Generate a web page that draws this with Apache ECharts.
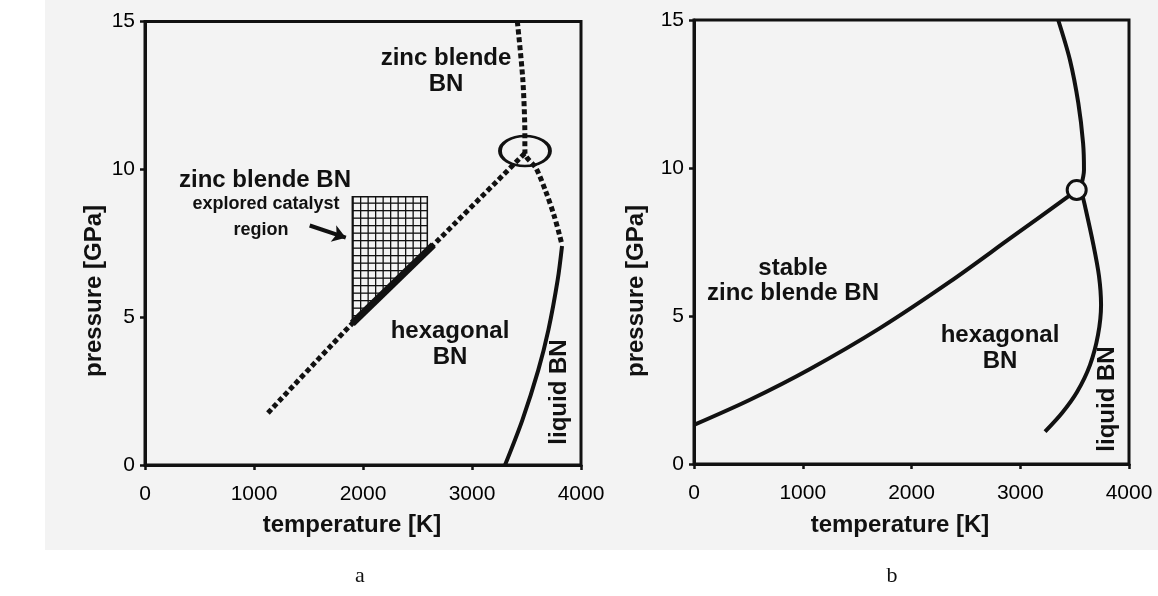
<!DOCTYPE html>
<html><head><meta charset="utf-8">
<script src="https://cdn.jsdelivr.net/npm/echarts@6/dist/echarts.min.js"></script>
<style>html,body{margin:0;padding:0;background:#fff}#c{width:1158px;height:596px}</style>
</head><body><div id="c"></div>
<script>
// ---------- data (temperature K, pressure GPa) ----------
const tempRange = [0, 4000];
const presRange = [0, 15];
const tempTickStep = 1000;
const presTickStep = 5;
const panelNames = ['a', 'b'];

// Panel a
const aZbBoundary = [[1128, 1.76], [1902, 4.79], [2645, 7.44], [3486, 10.55]];
const aExploredSegment = [[1902, 4.79], [2645, 7.44]];
const aCatalystRegion = [[1902, 9.07], [2590, 9.07], [2590, 7.24], [1902, 4.79]];
const aMeltDotted = [[3416, 15], [3465, 13.1], [3484, 11.5], [3486, 10.55], [3587, 10.04], [3679, 9.23], [3752, 8.45], [3803, 7.78], [3826, 7.44]];
const aMeltSolid = [[3826, 7.41], [3786, 6.26], [3701, 4.57], [3608, 3.21], [3462, 1.52], [3303, 0]];
const aTriplePoint = [[3486, 10.62]];
const aArrow = [[1511, 8.1], [1842, 7.69]];

// Panel b
const bZbBoundary = [[0, 1.32], [515, 2.17], [1067, 3.21], [1710, 4.59], [2354, 6.16], [2906, 7.62], [3439, 9.03], [3519, 9.26]];
const bMeltUpper = [[3349, 15], [3457, 13.65], [3534, 12.19], [3578, 10.83], [3586, 9.93], [3560, 9.4]];
const bMeltLower = [[3570, 9.1], [3595, 8.72], [3669, 7.47], [3724, 6.35], [3743, 5.37], [3715, 4.36], [3641, 3.34], [3522, 2.43], [3384, 1.72], [3228, 1.09]];
const bTriplePoint = [[3519, 9.26]];

// ---------- chart ----------
const INK = '#111';
const BG = '#f3f3f3';
const SANS = "'Liberation Sans', Arial, sans-serif";

const tile = document.createElement('canvas');
tile.width = 15; tile.height = 15;
(function () {
  const g = tile.getContext('2d');
  g.fillStyle = INK;
  g.fillRect(0, 0, 15, 1.3);
  g.fillRect(0, 7.5, 15, 1.3);
  g.fillRect(0, 0, 1.3, 15);
  g.fillRect(7.5, 0, 1.3, 15);
})();

function xAx(i) {
  return {
    gridIndex: i, type: 'value', min: tempRange[0], max: tempRange[1], interval: tempTickStep,
    axisLine: { show: true, onZero: false, lineStyle: { color: INK, width: 3 } },
    axisTick: { show: true, inside: false, length: 5, lineStyle: { color: INK, width: 2.5 } },
    axisLabel: { show: true, fontSize: 21, color: '#000', margin: 19, fontFamily: SANS, showMinLabel: true, showMaxLabel: true,
      formatter: function (v) { return String(v); } },
    splitLine: { show: false }
  };
}
function yAx(i) {
  return {
    gridIndex: i, type: 'value', min: presRange[0], max: presRange[1], interval: presTickStep,
    axisLine: { show: true, onZero: false, lineStyle: { color: INK, width: 3 } },
    axisTick: { show: true, inside: false, length: 5, lineStyle: { color: INK, width: 2.5 } },
    axisLabel: { show: true, fontSize: 21, color: '#000', margin: 10, fontFamily: SANS, showMinLabel: true, showMaxLabel: true,
      formatter: function (v) { return String(v); } },
    splitLine: { show: false }
  };
}
function line(data, gi, width, dotted, smooth, z) {
  return {
    type: 'line', xAxisIndex: gi, yAxisIndex: gi, data: data, symbol: 'none', showSymbol: false,
    smooth: smooth, silent: true, z: z || 3, clip: false,
    lineStyle: { color: INK, width: width, type: dotted ? [5, 3] : 'solid', cap: 'butt' }
  };
}
function txt(x, y, s, opt) {
  opt = opt || {};
  return {
    type: 'text', x: x, y: y, rotation: opt.rot || 0, z: 50, silent: true,
    style: {
      text: s, fill: INK, align: 'center', verticalAlign: 'middle',
      font: (opt.weight || 'bold') + ' ' + (opt.size || 24) + 'px ' + (opt.family || SANS),
      lineHeight: opt.lh || 26
    }
  };
}

const chart = echarts.init(document.getElementById('c'), null, { renderer: 'canvas' });
chart.setOption({
  animation: false,
  backgroundColor: '#fff',
  grid: [
    { left: 145, right: 1158 - 581, top: 21.5, bottom: 596 - 465, show: true, borderColor: INK, borderWidth: 3, backgroundColor: 'transparent' },
    { left: 694, right: 1158 - 1129, top: 20, bottom: 596 - 464, show: true, borderColor: INK, borderWidth: 3, backgroundColor: 'transparent' }
  ],
  xAxis: [xAx(0), xAx(1)],
  yAxis: [yAx(0), yAx(1)],
  graphic: [
    { type: 'rect', shape: { x: 45, y: 0, width: 1113, height: 550 }, style: { fill: BG }, z: -10, silent: true },
    // panel a texts
    txt(446, 71.5, 'zinc blende\nBN'),
    txt(265, 180, 'zinc blende BN'),
    txt(266, 204, 'explored catalyst', { size: 18 }),
    txt(261, 230, 'region', { size: 18 }),
    txt(450, 344, 'hexagonal\nBN'),
    txt(559, 392, 'liquid BN', { rot: Math.PI / 2 }),
    txt(94, 291, 'pressure [GPa]', { rot: Math.PI / 2 }),
    txt(352, 525, 'temperature [K]'),
    txt(360, 576, panelNames[0], { weight: 'normal', size: 22, family: "'Liberation Serif', 'Times New Roman', serif" }),
    // panel b texts
    txt(793, 281, 'stable\nzinc blende BN', { lh: 25 }),
    txt(1000, 348, 'hexagonal\nBN'),
    txt(1107, 399, 'liquid BN', { rot: Math.PI / 2 }),
    txt(636, 291, 'pressure [GPa]', { rot: Math.PI / 2 }),
    txt(900, 525, 'temperature [K]'),
    txt(892, 576, panelNames[1], { weight: 'normal', size: 22, family: "'Liberation Serif', 'Times New Roman', serif" })
  ],
  series: [
    // ---- panel a ----
    {
      type: 'custom', coordinateSystem: 'cartesian2d', xAxisIndex: 0, yAxisIndex: 0, silent: true, z: 2,
      data: [aCatalystRegion[0]],
      renderItem: function (params, api) {
        return {
          type: 'polygon',
          shape: { points: aCatalystRegion.map(function (p) { return api.coord(p); }) },
          style: { fill: { image: tile, repeat: 'repeat' }, stroke: INK, lineWidth: 1.5 }
        };
      }
    },
    line(aZbBoundary, 0, 5, true, 0.15),
    line(aExploredSegment, 0, 7, false, false, 4),
    line(aMeltDotted, 0, 5, true, 0.3),
    line(aMeltSolid, 0, 4, false, 0.3),
    {
      type: 'scatter', xAxisIndex: 0, yAxisIndex: 0, data: aTriplePoint, symbol: 'circle', symbolSize: [50, 30], silent: true, z: 5,
      itemStyle: { color: 'rgba(0,0,0,0)', borderColor: INK, borderWidth: 3, opacity: 1 }
    },
    {
      type: 'lines', coordinateSystem: 'cartesian2d', xAxisIndex: 0, yAxisIndex: 0, silent: true, z: 5,
      symbol: ['none', 'arrow'], symbolSize: 13,
      lineStyle: { color: INK, width: 4, opacity: 1, curveness: 0 },
      data: [{ coords: aArrow }]
    },
    // ---- panel b ----
    line(bZbBoundary, 1, 4, false, 0.3),
    line(bMeltUpper, 1, 4, false, 0.3),
    line(bMeltLower, 1, 4, false, 0.3),
    {
      type: 'scatter', xAxisIndex: 1, yAxisIndex: 1, data: bTriplePoint, symbol: 'circle', symbolSize: 19, silent: true, z: 6,
      itemStyle: { color: BG, borderColor: INK, borderWidth: 3, opacity: 1 }
    }
  ]
});
</script></body></html>
